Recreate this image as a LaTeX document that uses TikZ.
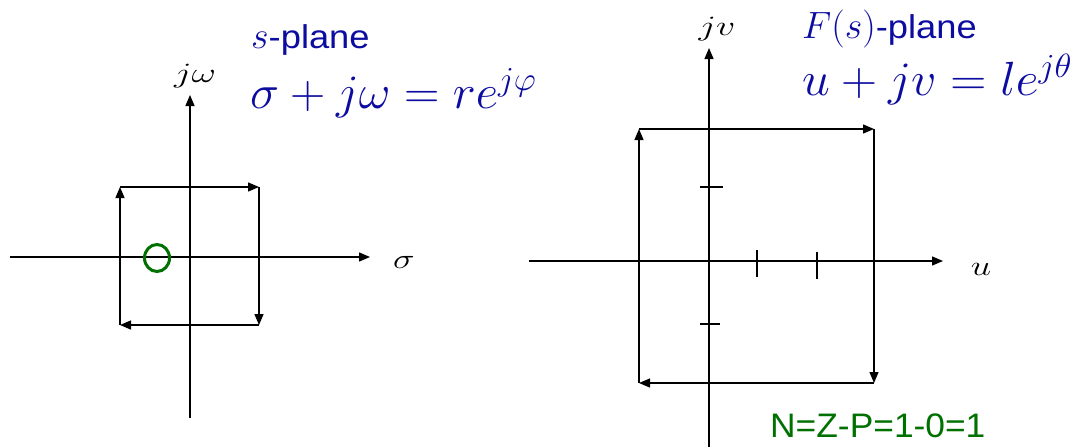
\RequirePackage{fix-cm}
\documentclass[tikz,border=0pt]{standalone}
\usepackage{fontspec}
\setmainfont{Liberation Sans}
\usetikzlibrary{arrows.meta}
\definecolor{eqblue}{RGB}{12,12,160}
\definecolor{nzgreen}{RGB}{0,112,0}
\newcommand{\hwide}[2]{\scalebox{#1}[1]{#2}}
\newcommand{\titlemath}[1]{{\fontsize{38}{38}\selectfont$#1$}}
\tikzset{
  axis/.style={line width=1.3pt,-{Triangle[length=11pt,width=9pt]}},
  contour/.style={line width=1.3pt,-{Triangle[length=11pt,width=9pt]}},
  tick/.style={line width=2pt},
  lbl/.style={inner sep=0pt,font=\fontsize{28}{28}\selectfont},
  title/.style={inner sep=0pt,text=eqblue,font=\fontsize{33}{33}\selectfont},
  eq/.style={inner sep=0pt,text=eqblue,font=\fontsize{48}{48}\selectfont},
}
\begin{document}
\begin{tikzpicture}[x=1pt,y=-1pt]
\useasboundingbox (0,0) rectangle (1074,447);
% ---------- s-plane ----------
\coordinate (sxL) at (10,257);
\coordinate (sxR) at (370,257);
\coordinate (syB) at (190,418);
\coordinate (syT) at (190,95);
\draw[axis] (sxL) -- (sxR);
\draw[axis] (syB) -- (syT);
\node[lbl,anchor=base] (sigma) at (404,268) {\hwide{1.3}{$\sigma$}};
\node[lbl,anchor=base] (jw) at (195,82) {\hwide{1.35}{$j\omega$}};
\coordinate (sA) at (120,325);
\coordinate (sB) at (120,187);
\coordinate (sC) at (259,187);
\coordinate (sD) at (259,325);
\draw[contour] (sA) -- (sB);
\draw[contour] (sB) -- (sC);
\draw[contour] (sC) -- (sD);
\draw[contour] (sD) -- (sA);
\draw[nzgreen,line width=3pt] (157,258) ellipse [x radius=12.5, y radius=13.5];
\node[title,anchor=base west] (stitle) at (251,48) {\titlemath{s}\hwide{1.1}{-plane}};
\node[eq,anchor=base west] (seq) at (250,108) {\hwide{1.02}{$\sigma+j\omega=re^{j\varphi}$}};
% ---------- F(s)-plane ----------
\coordinate (fxL) at (529,261);
\coordinate (fxR) at (943,261);
\coordinate (fyB) at (709,447);
\coordinate (fyT) at (709,48);
\draw[axis] (fxL) -- (fxR);
\draw[axis] (fyB) -- (fyT);
\node[lbl,anchor=base] (u) at (981,275) {\hwide{1.3}{$u$}};
\node[lbl,anchor=base] (jv) at (717,35) {\hwide{1.35}{$jv$}};
\coordinate (fA) at (639,383);
\coordinate (fB) at (639,129);
\coordinate (fC) at (874,129);
\coordinate (fD) at (874,383);
\draw[contour] (fA) -- (fB);
\draw[contour] (fB) -- (fC);
\draw[contour] (fC) -- (fD);
\draw[contour] (fD) -- (fA);
\draw[tick] (700,187) -- (723,187);
\draw[tick] (700,324) -- (720,324);
\draw[tick] (757,250) -- (757,277);
\draw[tick] (817,252) -- (817,279);
\node[title,anchor=base west] (ftitle) at (802,38) {\titlemath{F(s)}\hwide{1.1}{-plane}};
\node[eq,anchor=base west] (feq) at (802,95) {\hwide{1.04}{$u+jv=le^{j\theta}$}};
\node[inner sep=0pt,text=nzgreen,font=\fontsize{34}{34}\selectfont,anchor=base west] (nzp) at (770,437) {\hwide{1.04}{N=Z-P=1-0=1}};
\end{tikzpicture}
\end{document}
